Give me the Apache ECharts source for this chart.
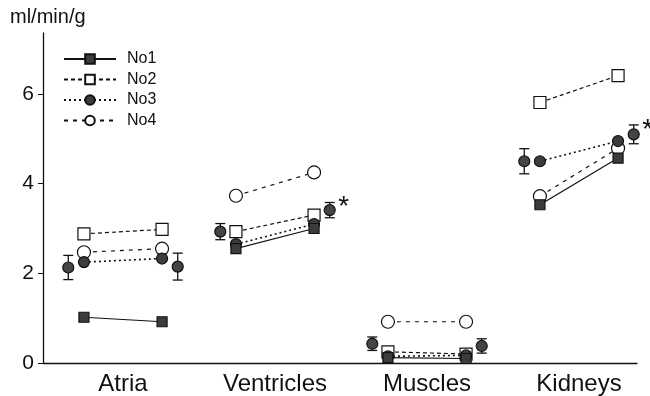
<!DOCTYPE html>
<html>
<head>
<meta charset="utf-8">
<script src="https://cdn.jsdelivr.net/npm/echarts@6/dist/echarts.min.js"></script>
<style>html,body{margin:0;padding:0;background:#fff}#c{width:650px;height:396px}</style>
</head>
<body>
<div id="c"></div>
<script>
// ---- data ----
const categories = ['Atria', 'Ventricles', 'Muscles', 'Kidneys'];
const yTicks = [0, 2, 4, 6];
const yTitle = 'ml/min/g';
const subjects = ['No1', 'No2', 'No3', 'No4'];
const no1Before = [1.02, 2.55, 0.12, 3.53];
const no1After  = [0.92, 3.00, 0.10, 4.57];
const no2Before = [2.88, 2.93, 0.25, 5.81];
const no2After  = [2.98, 3.30, 0.20, 6.41];
const no3Before = [2.25, 2.65, 0.15, 4.50];
const no3After  = [2.33, 3.10, 0.17, 4.95];
const no4Before = [2.47, 3.73, 0.92, 3.72];
const no4After  = [2.55, 4.25, 0.92, 4.79];
const meanBefore = [2.13, 2.93, 0.43, 4.50];
const errBefore  = [0.27, 0.18, 0.15, 0.28];
const meanAfter  = [2.15, 3.41, 0.38, 5.10];
const errAfter   = [0.30, 0.17, 0.16, 0.21];
const significant = [0, 1, 0, 1];

// ---- layout helpers ----
const FONT = 'Liberation Sans, Arial, sans-serif';
const pairOff = 0.257, meanOff = 0.36;
function catX(i) { return i + 1; }
function pairData(before, after) {
  const out = [];
  before.forEach((b, i) => {
    out.push([catX(i) - pairOff, b]);
    out.push([catX(i) + pairOff, after[i]]);
    if (i < before.length - 1) out.push([catX(i) + 0.5, '-']);
  });
  return out;
}
const styles = {
  No1: { line: { type: 'solid', width: 1.2 }, symbol: 'rect', size: 10, fill: '#3c3c3c', z: 8 },
  No2: { line: { type: [4, 3], width: 1.2 }, symbol: 'rect', size: 12, fill: '#ffffff', z: 5 },
  No3: { line: { type: [2, 3], width: 1.6 }, symbol: 'circle', size: 11, fill: '#3c3c3c', z: 6 },
  No4: { line: { type: [4, 5], width: 1.2 }, symbol: 'circle', size: 13, fill: '#ffffff', z: 4 }
};
const seriesValues = {
  No1: [no1Before, no1After], No2: [no2Before, no2After],
  No3: [no3Before, no3After], No4: [no4Before, no4After]
};
const lineSeries = subjects.map(name => {
  const s = styles[name];
  return {
    name, type: 'line', z: s.z,
    data: pairData(seriesValues[name][0], seriesValues[name][1]),
    connectNulls: false,
    symbol: s.symbol, symbolSize: s.size, showSymbol: true,
    lineStyle: { color: '#111', type: s.line.type, width: s.line.width },
    itemStyle: { color: s.fill, borderColor: '#111', borderWidth: 1.2, opacity: 1 },
    emphasis: { disabled: true },
    animation: false
  };
});

const meanData = [];
categories.forEach((c, i) => {
  meanData.push([catX(i) - meanOff, meanBefore[i], errBefore[i], 0]);
  meanData.push([catX(i) + meanOff, meanAfter[i], errAfter[i], significant[i]]);
});

const meanSeries = {
  name: 'mean', type: 'custom', z: 10,
  data: meanData,
  renderItem: function (params, api) {
    const x = api.value(0), m = api.value(1), e = api.value(2), sig = api.value(3);
    const c = api.coord([x, m]);
    const t = api.coord([x, m + e]);
    const b = api.coord([x, m - e]);
    const cap = 5;
    const st = { stroke: '#111', lineWidth: 1.3 };
    const children = [
      { type: 'line', shape: { x1: c[0], y1: t[1], x2: c[0], y2: b[1] }, style: st },
      { type: 'line', shape: { x1: c[0] - cap, y1: t[1], x2: c[0] + cap, y2: t[1] }, style: st },
      { type: 'line', shape: { x1: c[0] - cap, y1: b[1], x2: c[0] + cap, y2: b[1] }, style: st },
      { type: 'circle', shape: { cx: c[0], cy: c[1], r: 5.5 }, style: { fill: '#444', stroke: '#111', lineWidth: 1.2 } }
    ];
    if (sig) {
      children.push({ type: 'text', style: { text: '*', x: c[0] + 14, y: t[1] + 5, fill: '#111',
        font: '28px ' + FONT, align: 'center', verticalAlign: 'middle' } });
    }
    return { type: 'group', children };
  },
  animation: false
};

const chart = echarts.init(document.getElementById('c'), null, { renderer: 'canvas' });
chart.setOption({
  animation: false,
  backgroundColor: '#fff',
  textStyle: { fontFamily: FONT },
  grid: { left: 43, right: 13, top: 33, bottom: 32, containLabel: false },
  legend: {
    data: subjects, orient: 'vertical', left: 58, top: 46,
    itemWidth: 52, itemHeight: 12, itemGap: 4.5,
    textStyle: { fontSize: 16, color: '#111', fontFamily: FONT, padding: [0, 0, 0, 6] },
    selectedMode: false
  },
  xAxis: {
    type: 'value', min: 1 - 80 / 152, max: 1 + (637 - 123) / 152,
    splitLine: { show: false },
    axisLine: { lineStyle: { color: '#111', width: 1.3 } },
    axisTick: { show: false },
    axisLabel: {
      customValues: categories.map((c, i) => catX(i)),
      formatter: v => categories[Math.round(v) - 1] || '',
      fontSize: 24, color: '#111', margin: 9, fontFamily: FONT
    }
  },
  yAxis: {
    type: 'value', min: 0, max: 7.36,
    name: yTitle, nameLocation: 'end', nameGap: 6,
    nameTextStyle: { fontSize: 20, color: '#111', align: 'left', padding: [0, 0, 0, -33], fontFamily: FONT },
    splitLine: { show: false },
    axisLine: { show: true, lineStyle: { color: '#111', width: 1.3 } },
    axisTick: { show: true, length: 5, customValues: yTicks, lineStyle: { color: '#111' } },
    axisLabel: { customValues: yTicks, fontSize: 21, color: '#111', margin: 9, fontFamily: FONT }
  },
  series: [...lineSeries, meanSeries]
});
</script>
</body>
</html>
